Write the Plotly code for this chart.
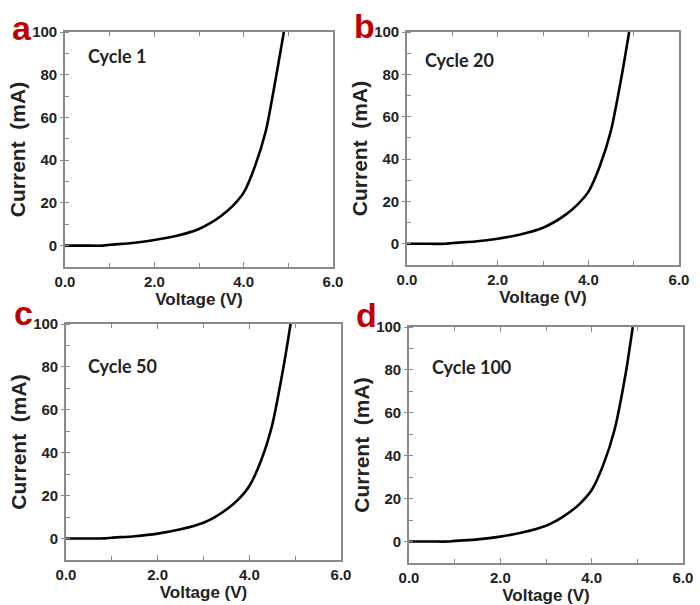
import plotly.graph_objects as go

panel_letters = ["a", "b", "c", "d"]
cycle_labels = ["Cycle 1", "Cycle 20", "Cycle 50", "Cycle 100"]

voltage = [0.0, 0.5, 0.85, 1.0, 1.5, 2.0, 2.5, 3.0, 3.25, 3.5, 3.75, 4.0, 4.25, 4.5, 4.75, 4.9]
current_c1 = [0.0, 0.0, 0.0, 0.4, 1.2, 2.6, 4.6, 7.8, 10.5, 14.0, 18.5, 24.8, 37.0, 54.0, 82.0, 100.0]
current_c20 = [0.0, 0.0, 0.0, 0.4, 1.1, 2.4, 4.4, 7.6, 10.3, 13.8, 18.3, 24.5, 36.5, 53.5, 81.0, 100.0]
current_c50 = [0.0, 0.0, 0.1, 0.4, 1.1, 2.3, 4.3, 7.4, 10.0, 13.5, 18.0, 24.5, 36.0, 53.0, 80.5, 100.0]
current_c100 = [0.0, 0.0, 0.0, 0.3, 1.0, 2.3, 4.3, 7.4, 10.0, 13.4, 17.8, 24.0, 35.5, 52.0, 79.0, 100.0]
currents = [current_c1, current_c20, current_c50, current_c100]

x_ticks = [0, 2, 4, 6]
x_ticktext = ["0.0", "2.0", "4.0", "6.0"]
y_ticks = [0, 20, 40, 60, 80, 100]

W, H = 700, 605
# plot area boxes in pixels (left, right, top, bottom)
boxes = [(65, 333, 32, 267), (407, 679, 32, 265), (66, 341, 324, 560), (409, 683, 327, 563)]
letter_pos = [(22, 28), (364, 26), (23, 313), (366, 315)]
cycle_pos = [(86, 56), (423, 60), (86, 366), (430, 367)]

AX = "#8a8a8a"
tickfont = dict(family="Liberation Sans, Arial", size=15, color="#222", weight="bold")

fig = go.Figure()
layout = {}
annotations = []
for i in range(4):
    n = "" if i == 0 else str(i + 1)
    l, r, t, b = boxes[i]
    xd = [l / W, r / W]
    yd = [1 - b / H, 1 - t / H]
    fig.add_trace(go.Scatter(x=voltage, y=currents[i], mode="lines",
                             line=dict(color="black", width=2.6, shape="spline", smoothing=0.6),
                             xaxis="x" + n, yaxis="y" + n, showlegend=False))
    layout["xaxis" + n] = dict(
        domain=xd, anchor="y" + n, range=[0, 6], tickvals=x_ticks, ticktext=x_ticktext,
        ticks="inside", ticklen=5, tickwidth=1.3, tickcolor=AX, automargin=False,
        minor=dict(ticks="inside", dtick=1, tick0=0, ticklen=4, tickwidth=1.2, tickcolor=AX),
        showline=True, linecolor=AX, linewidth=1.6, mirror="ticks", showgrid=False, zeroline=False,
        tickfont=tickfont,
        title=dict(text="Voltage (V)", standoff=0,
                   font=dict(family="Liberation Sans, Arial", size=17, color="#222", weight="bold")),
    )
    layout["yaxis" + n] = dict(
        domain=yd, anchor="x" + n, range=[-10, 100], tickvals=y_ticks, automargin=False,
        ticks="outside", ticklen=3, tickwidth=1.3, tickcolor=AX,
        minor=dict(ticks="inside", dtick=10, tick0=0, ticklen=4, tickwidth=1.2, tickcolor=AX),
        showline=True, linecolor=AX, linewidth=1.6, mirror=True, showgrid=False, zeroline=False,
        tickfont=tickfont, ticklabelstandoff=0,
        title=dict(text="Current  (mA)", standoff=1,
                   font=dict(family="Liberation Sans, Arial", size=21, color="#222", weight="bold")),
    )
    # right-side inner ticks
    layout["yaxis" + str(i + 5)] = dict(
        domain=yd, anchor="x" + n, overlaying="y" + n, side="right", range=[-10, 100],
        tickvals=y_ticks, showticklabels=False, automargin=False,
        ticks="inside", ticklen=5, tickwidth=1.3, tickcolor=AX,
        minor=dict(ticks="inside", dtick=10, tick0=0, ticklen=4, tickwidth=1.2, tickcolor=AX),
        showline=True, linecolor=AX, linewidth=1.6, showgrid=False, zeroline=False,
    )
    lx, ly = letter_pos[i]
    annotations.append(dict(text=panel_letters[i], x=lx / W, y=1 - ly / H, xref="paper", yref="paper",
                            showarrow=False, xanchor="center", yanchor="middle",
                            font=dict(family="Liberation Sans, Arial", size=34, color="#c00000", weight="bold")))
    cx, cy = cycle_pos[i]
    annotations.append(dict(text=cycle_labels[i], x=cx / W, y=1 - cy / H, xref="paper", yref="paper",
                            showarrow=False, xanchor="left", yanchor="middle",
                            font=dict(family="Lato, Open Sans", size=18, color="#222", weight="bold")))

fig.update_layout(**layout)
fig.update_layout(width=W, height=H, margin=dict(l=0, r=0, t=0, b=0),
                  paper_bgcolor="white", plot_bgcolor="white", annotations=annotations)
fig.write_html("out.html", config={"displayModeBar": False},
               post_script="document.body.style.margin='0';document.body.style.overflow='hidden';")
